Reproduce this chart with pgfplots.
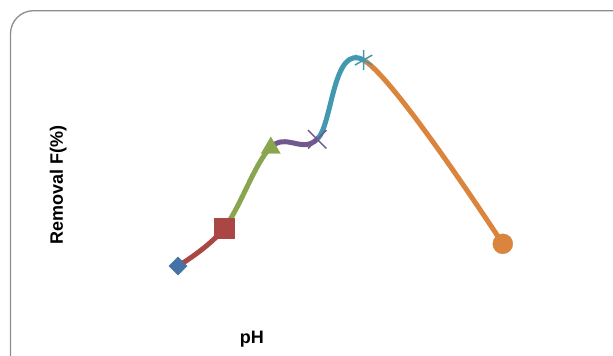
\documentclass[border=0pt]{standalone}
\usepackage{fontspec}
\setmainfont{Liberation Sans}
\usepackage{pgfplots}
\pgfplotsset{compat=1.18}
\usepackage{pgfplotstable}
\definecolor{cBlue}{HTML}{4572A7}
\definecolor{cRed}{HTML}{AA4643}
\definecolor{cGreen}{HTML}{89A54E}
\definecolor{cPurple}{HTML}{71588F}
\definecolor{cTeal}{HTML}{4198AF}
\definecolor{cOrange}{HTML}{DB843D}
\definecolor{frame}{HTML}{8C8C8C}
\pgfplotstableread{
pH removal
2 40
3 49.6
4 70
5 72
6 92
9 45.6
}\data
\begin{document}
\begin{tikzpicture}
\clip (0,0) rectangle (613pt,356pt);
\draw[frame, line width=1.3pt, rounded corners=23pt] (10.5pt,-40pt) rectangle (680pt,345.3pt);
\begin{axis}[
  at={(131.6pt,50.4pt)}, anchor=south west,
  scale only axis, width=417.6pt, height=277.2pt,
  xmin=1, xmax=10, ymin=30, ymax=100,
  axis line style={draw=none}, ticks=none,
  xlabel={\fontsize{18}{20}\selectfont\bfseries pH},
  ylabel={\fontsize{18}{20}\selectfont\bfseries Removal F(\%)},
  x label style={at={(axis description cs:0.288,-0.122)}, anchor=center},
  y label style={at={(axis description cs:-0.176,0.435)}, anchor=center},
  clip=false,
]
\begin{scope}
\clip (axis cs:2,0) rectangle (axis cs:3,200);
\addplot[cRed, line width=5pt, smooth, tension=0.6, no marks] table[x=pH,y=removal] {\data};
\end{scope}
\begin{scope}
\clip (axis cs:3,0) rectangle (axis cs:4,200);
\addplot[cGreen, line width=5pt, smooth, tension=0.6, no marks] table[x=pH,y=removal] {\data};
\end{scope}
\begin{scope}
\clip (axis cs:4,0) rectangle (axis cs:5,200);
\addplot[cPurple, line width=5pt, smooth, tension=0.6, no marks] table[x=pH,y=removal] {\data};
\end{scope}
\begin{scope}
\clip (axis cs:5,0) rectangle (axis cs:6,200);
\addplot[cTeal, line width=5pt, smooth, tension=0.6, no marks] table[x=pH,y=removal] {\data};
\end{scope}
\begin{scope}
\clip (axis cs:6,0) rectangle (axis cs:9,200);
\addplot[cOrange, line width=5pt, smooth, tension=0.6, no marks] table[x=pH,y=removal] {\data};
\end{scope}
\addplot[only marks, mark=square*, mark size=6.5pt, mark options={rotate=45, fill=cBlue, draw=cBlue}] coordinates {(2,40)};
\addplot[only marks, mark=square*, mark size=10pt, mark options={fill=cRed, draw=cRed}] coordinates {(3,49.6)};
\addplot[only marks, mark=triangle*, mark size=11pt, mark options={fill=cGreen, draw=cGreen}] coordinates {(4,69.8)};
\addplot[only marks, mark=x, mark size=13pt, mark options={draw=cPurple, line width=1.5pt}] coordinates {(5,72)};
\addplot[only marks, mark=asterisk, mark size=10pt, mark options={draw=cTeal, line width=1.5pt}] coordinates {(6,92)};
\addplot[only marks, mark=*, mark size=10pt, mark options={fill=cOrange, draw=cOrange}] coordinates {(9,45.6)};
\end{axis}
\end{tikzpicture}
\end{document}
